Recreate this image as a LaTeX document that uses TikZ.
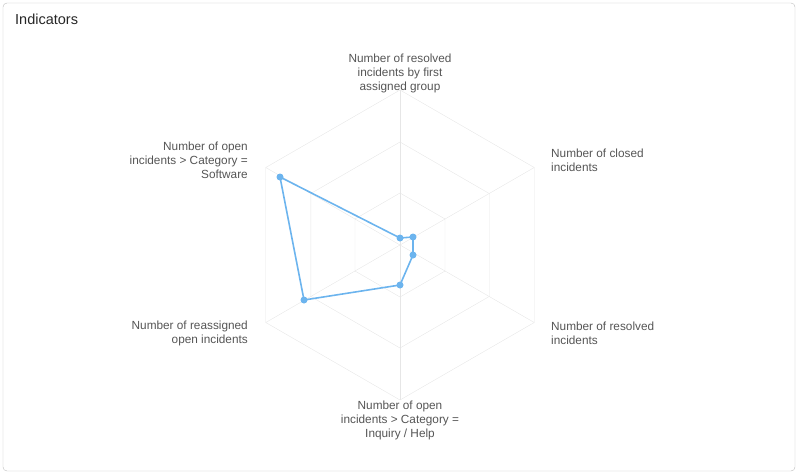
\documentclass[tikz,border=0pt]{standalone}
\usepackage{fontspec}
\setmainfont{Liberation Sans}
\definecolor{gridgray}{HTML}{E6E6E6}
\definecolor{txtgray}{HTML}{555555}
\definecolor{serie}{HTML}{6CB4EE}
\tikzset{
  axlabel/.style={font=\fontsize{11.8}{14}\selectfont, text=txtgray, inner sep=0pt},
  dot/.style={circle, fill=serie, inner sep=0pt, minimum size=7pt}
}
\begin{document}
\begin{tikzpicture}[x=1pt, y=-1pt]
	\useasboundingbox (0,0) rectangle (798,474);
	% frame
	\draw[gridgray!60!gray, rounded corners=4pt] (3,3) rectangle (795,471);
	\node[anchor=west, font=\fontsize{14.5}{16}\selectfont, text=black!85, inner sep=0pt] (title) at (15,19) {Indicators};
	
	% grid
	\coordinate (c) at (400,245);
	\foreach \r in {52,103,155}
		\draw[gridgray, shift={(c)}] (90:-\r) -- (30:-\r) -- (-30:-\r) -- (-90:-\r) -- (-150:-\r) -- (150:-\r) -- cycle;
	\foreach \a in {90,30,-30,-90,-150,150}
		\draw[gridgray, shift={(c)}] (0,0) -- (\a:-155);
	
	% labels
	\node[axlabel, anchor=south, align=center] (l1) at (400,93) {Number of resolved\\incidents by first\\assigned group};
	\node[axlabel, anchor=west, align=left] (l2) at (551,160) {Number of closed\\incidents};
	\node[axlabel, anchor=west, align=left] (l3) at (551,333) {Number of resolved\\incidents};
	\node[axlabel, anchor=north, align=center] (l4) at (400,401) {Number of open\\incidents > Category =\\Inquiry / Help};
	\node[axlabel, anchor=east, align=right] (l5) at (248,333) {Number of reassigned\\open incidents};
	\node[axlabel, anchor=east, align=right] (l6) at (248,160) {Number of open\\incidents > Category =\\Software};
	
	% series
	\node[dot] (p1) at (400,238) {};
	\node[dot] (p2) at (413,237) {};
	\node[dot] (p3) at (413,255) {};
	\node[dot] (p4) at (400,285) {};
	\node[dot] (p5) at (304,300) {};
	\node[dot] (p6) at (280,177) {};
	\draw[serie, line width=1.6pt] (p1.center) -- (p2.center) -- (p3.center) -- (p4.center) -- (p5.center) -- (p6.center) -- cycle;
\end{tikzpicture}
\end{document}
